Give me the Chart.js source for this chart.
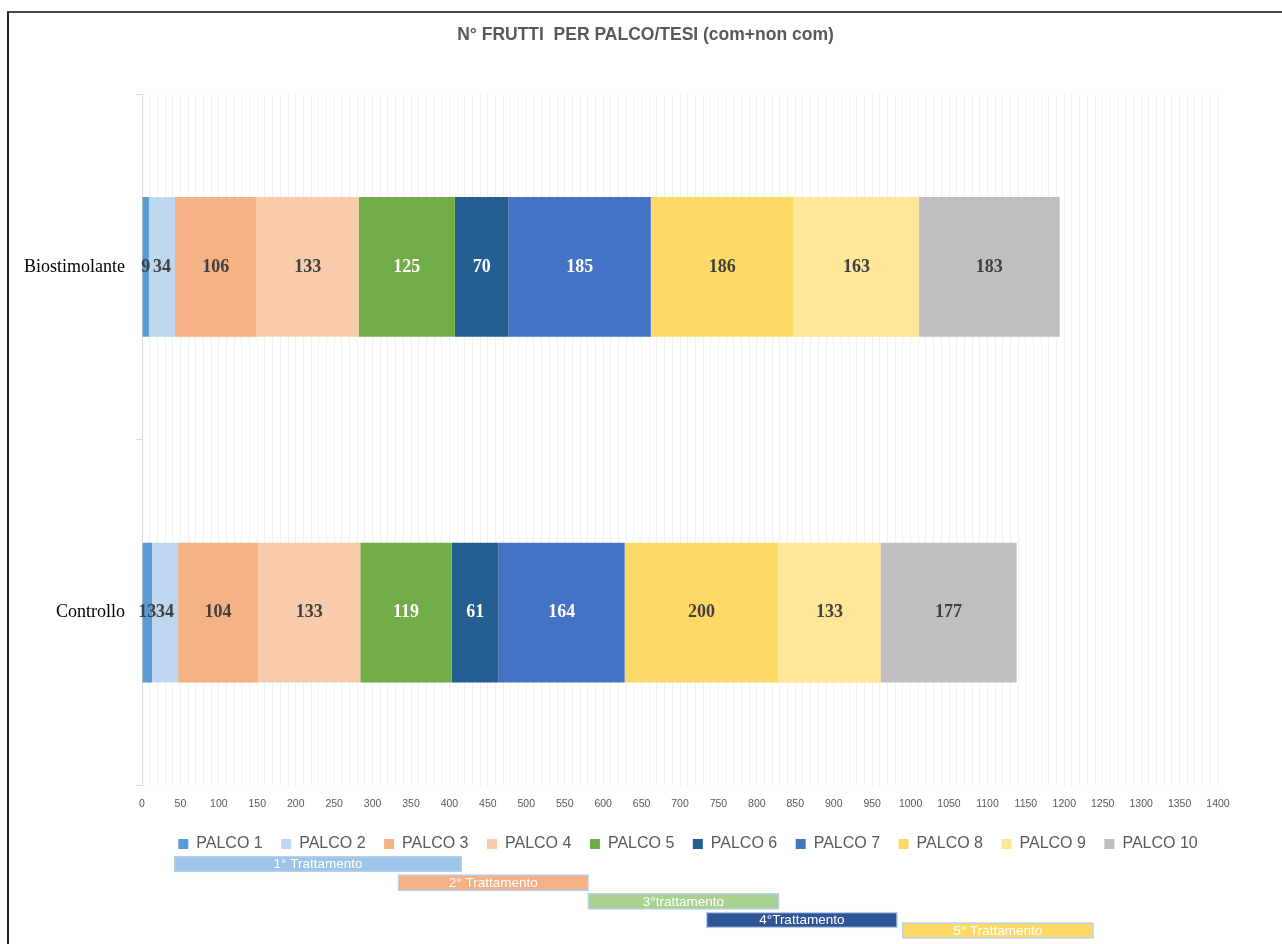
<!DOCTYPE html>
<html>
<head>
<meta charset="utf-8">
<title>N° frutti per palco/tesi</title>
<script src="https://cdn.jsdelivr.net/npm/chart.js@4/dist/chart.umd.min.js"></script>
<style>
  html, body { margin: 0; padding: 0; background: #ffffff; overflow: hidden; }
  #frame {
    position: absolute; left: 7px; top: 11px; width: 1275px; height: 933px;
    border-left: 2px solid #222222; border-top: 2px solid #4a4a4a; box-sizing: border-box;
  }
  #mainWrap { position: absolute; left: 9px; top: 13px; width: 1273px; height: 849px; }
  #treatWrap { position: absolute; left: 9px; top: 850px; width: 1273px; height: 94px; }
</style>
</head>
<body>
<div id="frame"></div>
<div id="mainWrap"><canvas id="mainChart"></canvas></div>
<div id="treatWrap"><canvas id="treatChart"></canvas></div>
<script>
// ---- data ----
const categories = ['Biostimolante', 'Controllo'];
const palcoNames = ['PALCO 1', 'PALCO 2', 'PALCO 3', 'PALCO 4', 'PALCO 5',
                    'PALCO 6', 'PALCO 7', 'PALCO 8', 'PALCO 9', 'PALCO 10'];
const biostimolante = [9, 34, 106, 133, 125, 70, 185, 186, 163, 183];
const controllo     = [13, 34, 104, 133, 119, 61, 164, 200, 133, 177];

const treatmentLabels = ['1° Trattamento', '2° Trattamento', '3°trattamento', '4°Trattamento', '5° Trattamento'];
const treatmentStart  = [42, 333, 580, 734, 989];
const treatmentEnd    = [416, 581, 829, 983, 1238];

// ---- styles ----
const palcoColors = ['#5B9BD5', '#BDD7EE', '#F4B183', '#F8CBAD', '#70AD47',
                     '#255E91', '#4472C4', '#FFD966', '#FFE699', '#BFBFBF'];
const labelColors = ['#404040', '#404040', '#404040', '#404040', '#FFFFFF',
                     '#FFFFFF', '#FFFFFF', '#404040', '#404040', '#404040'];
const treatmentColors = ['#9DC3E6', '#F4B183', '#A9D18E', '#2F5597', '#FFD966'];
const TREATMENT_ROW = [0, 1, 2, 3, 3.56];   // vertical stacking of the treatment strips

Chart.defaults.font.family = '"Liberation Sans", Arial, sans-serif';
Chart.defaults.animation = false;

// value written in the middle of each stacked segment
const valueLabels = {
  id: 'valueLabels',
  afterDatasetsDraw(chart) {
    const ctx = chart.ctx;
    ctx.save();
    ctx.font = 'bold 18px "Liberation Serif", "Times New Roman", serif';
    ctx.textAlign = 'center';
    ctx.textBaseline = 'middle';
    chart.data.datasets.forEach((ds, di) => {
      const meta = chart.getDatasetMeta(di);
      if (meta.hidden) return;
      meta.data.forEach((bar, i) => {
        const p = bar.getProps(['x', 'base', 'y'], true);
        ctx.fillStyle = labelColors[di];
        ctx.fillText(String(ds.data[i]), (p.x + p.base) / 2, p.y);
      });
    });
    ctx.restore();
  }
};

// legend sits centred under the bars, nudged slightly right
const legendNudge = {
  id: 'legendNudge',
  afterLayout(chart) {
    const lg = chart.legend;
    if (lg) { lg.left += 8; lg.right += 8; }
  }
};

new Chart(document.getElementById('mainChart'), {
  type: 'bar',
  data: {
    labels: categories,
    datasets: palcoNames.map((name, i) => ({
      label: name,
      data: [biostimolante[i], controllo[i]],
      backgroundColor: palcoColors[i],
      borderWidth: 0,
      barPercentage: 0.404,
      categoryPercentage: 1
    }))
  },
  options: {
    indexAxis: 'y',
    responsive: true,
    maintainAspectRatio: false,
    layout: { padding: 0 },
    scales: {
      x: {
        stacked: true,
        min: 0,
        max: 1400,
        border: { display: false },
        grid: { color: '#F1F1F1', lineWidth: 1, drawTicks: false },
        ticks: {
          stepSize: 10,
          autoSkip: false,
          maxRotation: 0,
          padding: 12,
          color: '#595959',
          font: { size: 10.5 },
          callback: (v) => (v % 50 === 0 ? String(v) : '')
        },
        afterFit: (s) => { s.height = 32; }
      },
      y: {
        stacked: true,
        border: { color: '#D9D9D9', width: 1 },
        grid: { drawOnChartArea: false, color: '#D9D9D9', tickLength: 6, offset: true },
        ticks: {
          color: '#000000',
          padding: 11,
          font: { family: '"Liberation Serif", "Times New Roman", serif', size: 18 }
        },
        afterFit: (s) => { s.width = 133; }
      },
      // empty margin on the right of the plot
      yRight: {
        type: 'linear',
        position: 'right',
        display: true,
        ticks: { display: false },
        grid: { display: false, drawOnChartArea: false },
        border: { display: false },
        afterFit: (s) => { s.width = 64; }
      }
    },
    plugins: {
      title: {
        display: true,
        text: 'N° FRUTTI  PER PALCO/TESI (com+non com)',
        color: '#595959',
        font: { size: 17.5, weight: 'bold' },
        padding: { top: 12, bottom: 48 }
      },
      legend: {
        position: 'bottom',
        fullSize: false,
        labels: {
          boxWidth: 10,
          boxHeight: 10,
          padding: 18.5,
          color: '#595959',
          font: { size: 16 }
        }
      },
      tooltip: { enabled: false }
    }
  },
  plugins: [valueLabels, legendNudge]
});

// treatment periods drawn on the same 0–1400 scale as the bars above
const treatmentText = {
  id: 'treatmentText',
  afterDatasetsDraw(chart) {
    const ctx = chart.ctx;
    const meta = chart.getDatasetMeta(0);
    ctx.save();
    ctx.font = '13.5px "Liberation Sans", Arial, sans-serif';
    ctx.fillStyle = '#FFFFFF';
    ctx.textAlign = 'center';
    ctx.textBaseline = 'middle';
    meta.data.forEach((bar, i) => {
      const p = bar.getProps(['x', 'base', 'y'], true);
      ctx.fillText(treatmentLabels[i], (p.x + p.base) / 2, p.y + 0.5);
    });
    ctx.restore();
  }
};

new Chart(document.getElementById('treatChart'), {
  type: 'bar',
  data: {
    datasets: [{
      data: treatmentLabels.map((_, i) => ({ x: [treatmentStart[i], treatmentEnd[i]], y: TREATMENT_ROW[i] })),
      backgroundColor: treatmentColors,
      borderColor: '#B4D0EC',
      borderWidth: 1.5,
      borderSkipped: false,
      barThickness: 16
    }]
  },
  options: {
    indexAxis: 'y',
    responsive: true,
    maintainAspectRatio: false,
    layout: { padding: { left: 133, right: 64, top: 0, bottom: 0 } },
    scales: {
      x: { type: 'linear', display: false, min: 0, max: 1400 },
      y: { type: 'linear', display: false, reverse: true, offset: false,
           grid: { offset: false }, min: -0.75, max: 4.285 }
    },
    plugins: {
      legend: { display: false },
      title: { display: false },
      tooltip: { enabled: false }
    }
  },
  plugins: [treatmentText]
});
</script>
</body>
</html>
